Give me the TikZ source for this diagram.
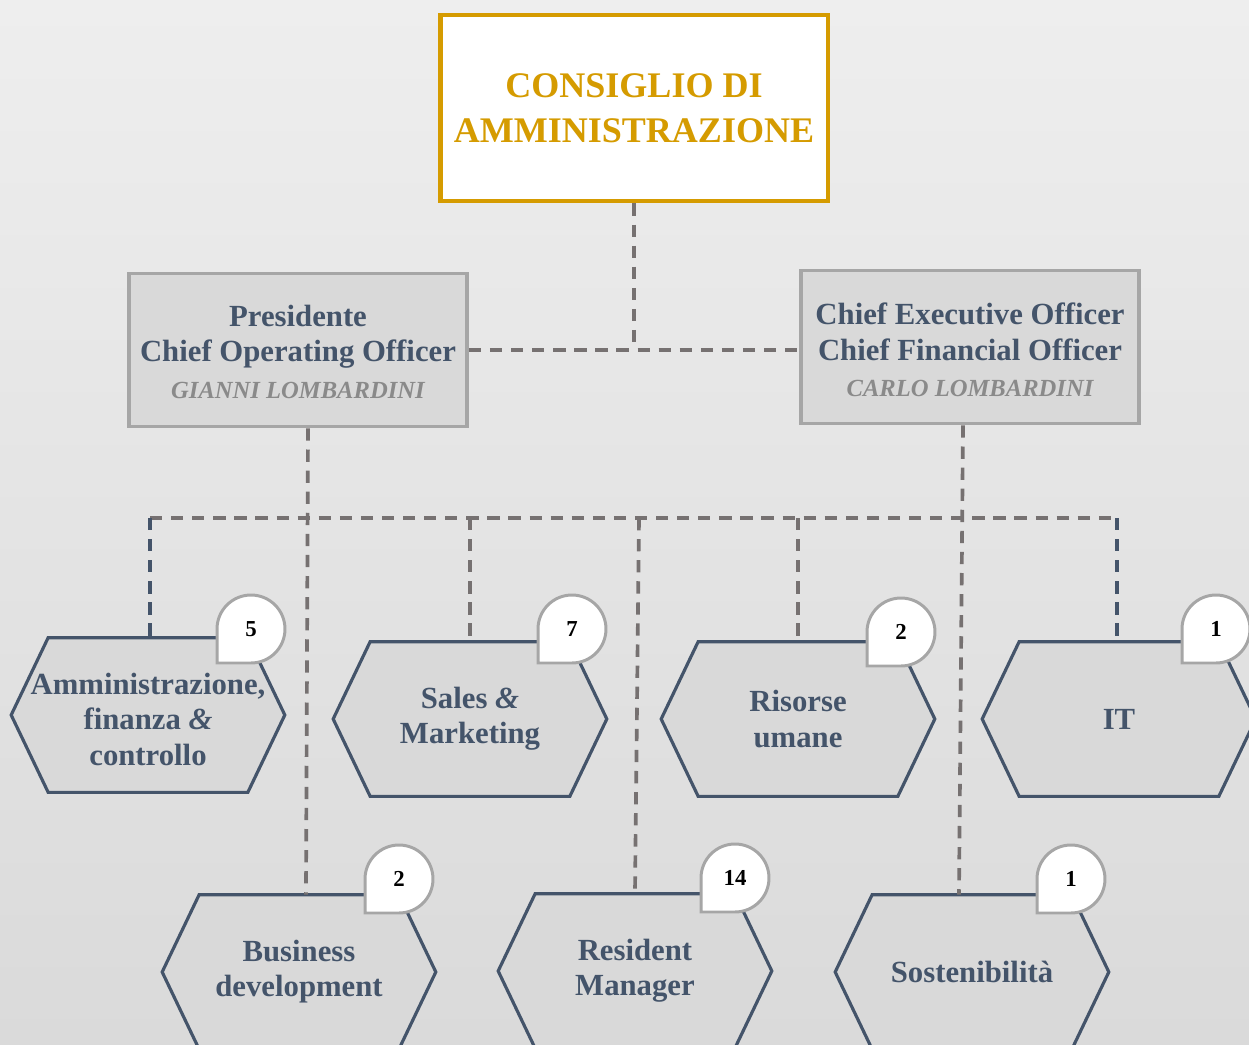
\documentclass[tikz,border=0pt]{standalone}
\usepackage{fontspec}
\setmainfont{Liberation Serif}
\usetikzlibrary{backgrounds}
\definecolor{gold}{HTML}{D59B00}
\definecolor{slate}{HTML}{44546A}
\definecolor{boxfill}{HTML}{D9D9D9}
\definecolor{boxline}{HTML}{A6A6A6}
\definecolor{linkgray}{HTML}{767171}
\definecolor{namegray}{HTML}{8A8A8A}
\definecolor{bgtop}{HTML}{EEEEEE}
\definecolor{bgbot}{HTML}{DADADA}
\tikzset{
  board/.style={draw=gold, line width=2.8pt, fill=white, minimum width=7.76cm, minimum height=3.72cm,
    align=center, text=gold, font=\fontsize{20.5}{25.5}\selectfont\bfseries},
  officer/.style={draw=boxline, line width=2.2pt, fill=boxfill, minimum width=6.76cm, minimum height=3.06cm,
    align=center, text=slate, font=\fontsize{17.5}{20}\selectfont\bfseries},
  dept/.style={minimum width=5.46cm, minimum height=3.08cm, align=center, text=slate,
    font=\fontsize{17.5}{20}\selectfont\bfseries},
  hexline/.style={draw=slate, line width=1.8pt, fill=boxfill},
  link/.style={draw=linkgray, line width=2.1pt, dash pattern=on 7pt off 5pt},
  badge/.style={draw=boxline, line width=1.7pt, fill=white},
  num/.style={font=\fontsize{13}{15}\selectfont\bfseries, text=black},
}
\begin{document}
\begin{tikzpicture}[x=0.02cm, y=-0.02cm]
  \useasboundingbox (0,0) rectangle (1249,1045);
  % top boxes
  \node[board] (cda) at (634,108) {CONSIGLIO DI\\AMMINISTRAZIONE};
  \node[officer] (pres) at (298,350) {\\[-6pt]Presidente\\Chief Operating Officer\\[1pt]
    {\fontsize{14}{16}\selectfont\itshape\color{namegray}GIANNI LOMBARDINI}};
  \node[officer] (ceo) at (970,347) {\\[-4pt]Chief Executive Officer\\Chief Financial Officer\\[1pt]
    {\fontsize{14}{16}\selectfont\itshape\color{namegray}CARLO LOMBARDINI}};
  % departments
  \node[dept] (amm) at (148,715) {\raisebox{-4.5pt}[\height][\depth]{\begin{tabular}{@{}c@{}}
    Amministrazione,\\finanza {\itshape\&}\\controllo\end{tabular}}};
  \node[dept] (sales) at (470,719) {Sales {\itshape\&}\\Marketing};
  \node[dept] (hr) at (798,719) {Risorse\\umane};
  \node[dept] (it) at (1119,719) {IT};
  \node[dept] (bizdev) at (299,972) {Business\\development};
  \node[dept] (resman) at (635,971) {Resident\\Manager};
  \node[dept] (sost) at (972,972) {Sostenibilità};
  \begin{scope}[on background layer]
    \shade[top color=bgtop, bottom color=bgbot] (0,0) rectangle (1249,1045);
    \foreach \dep in {amm,sales,hr,it,bizdev,resman,sost}
      \filldraw[hexline] (\dep.west) -- ([xshift=0.74cm]\dep.north west) -- ([xshift=-0.74cm]\dep.north east)
        -- (\dep.east) -- ([xshift=-0.74cm]\dep.south east) -- ([xshift=0.74cm]\dep.south west) -- cycle;
  \end{scope}
  % connectors
  \coordinate (busL) at (150,518);
  \coordinate (busM) at (639,518);
  \coordinate (busR) at (1117,518);
  \draw[link] (cda.south) -- (cda.south |- pres.east);
  \draw[link] (pres.east) -- (pres.east -| ceo.west);
  \draw[link] (busL) -- (busR);
  \draw[link] ([xshift=0.2cm]pres.south) -- ([xshift=0.14cm]bizdev.north);
  \draw[link] ([xshift=-0.14cm]ceo.south) -- ([xshift=-0.26cm]sost.north);
  \draw[link] (busM) -- (resman.north);
  \draw[link, draw=slate] (busL) -- (busL |- amm.north);
  \draw[link] (sales.north |- busL) -- (sales.north);
  \draw[link] (hr.north |- busL) -- (hr.north);
  \draw[link, draw=slate] (busR) -- (busR |- it.north);
  % staff counts
  \foreach \nm/\x/\y/\val in {bamm/251/629/5, bsales/572/629/7, bhr/901/632/2, bit/1216/629/1,
      bbiz/399/879/2, bres/735/878/14, bsost/1071/879/1}{
    \coordinate (\nm) at (\x,\y);
    \filldraw[badge] ([shift={(-0.68cm,-0.68cm)}]\nm) -- ++(0,0.68cm)
      arc[start angle=180, end angle=-90, radius=0.68cm] -- cycle;
    \node[num] (\nm-v) at (\nm) {\val};
  }
\end{tikzpicture}
\end{document}
